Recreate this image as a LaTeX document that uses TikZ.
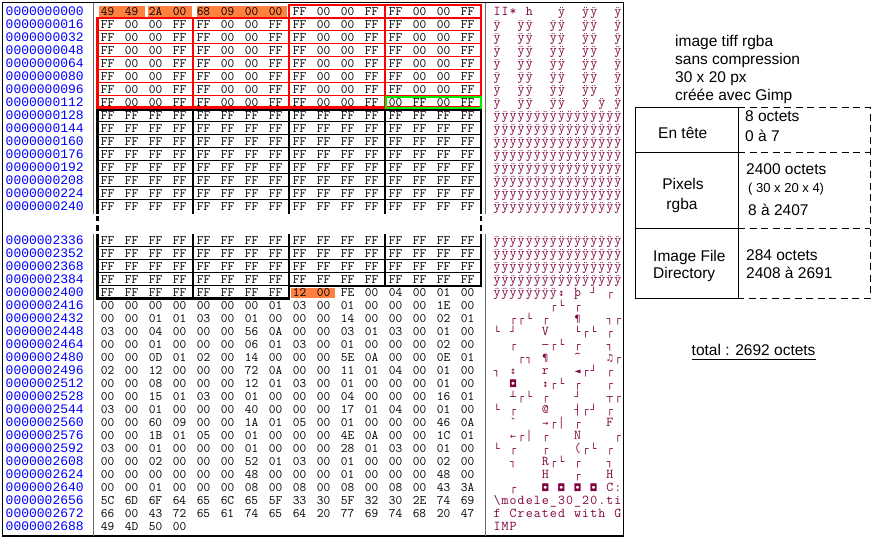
\documentclass[tikz,border=0pt]{standalone}
\usepackage{fontspec}
\setmainfont{Liberation Sans}
\newfontfamily\adrfont{Liberation Mono}
\newfontfamily\symf{DejaVu Sans Mono}

\definecolor{adrblue}{RGB}{0,0,255}
\definecolor{ascred}{RGB}{128,0,64}
\definecolor{hdrorange}{RGB}{255,128,64}
\definecolor{pixred}{RGB}{255,0,0}
\definecolor{pixgreen}{RGB}{0,235,0}
\definecolor{sepgray}{RGB}{110,110,110}

\newcommand\bxs[1]{{\symf\fontsize{10}{10}\selectfont #1}}
\newcommand\zzA{\bxs{┌}}
\newcommand\zzB{\bxs{┐}}
\newcommand\zzC{\bxs{└}}
\newcommand\zzD{\bxs{┘}}
\newcommand\zzE{\bxs{│}}
\newcommand\zzF{\bxs{─}}
\newcommand\zzG{\bxs{◘}}
\newcommand\zzH{\bxs{♫}}
\newcommand\zzI{\bxs{◄}}
\newcommand\zzJ{\bxs{↕}}
\newcommand\zzK{\bxs{¶}}
\newcommand\zzL{\bxs{┴}}
\newcommand\zzM{\bxs{┬}}
\newcommand\zzN{\bxs{┤}}
\newcommand\zzO{\bxs{→}}
\newcommand\zzP{\bxs{←}}

\def\pxrow{FF,00,00,FF,FF,00,00,FF,FF,00,00,FF,FF,00,00,FF}
\def\ffrow{FF,FF,FF,FF,FF,FF,FF,FF,FF,FF,FF,FF,FF,FF,FF,FF}
\def\pxasc{ÿ,{},{},ÿ,ÿ,{},{},ÿ,ÿ,{},{},ÿ,ÿ,{},{},ÿ}
\def\ffasc{ÿ,ÿ,ÿ,ÿ,ÿ,ÿ,ÿ,ÿ,ÿ,ÿ,ÿ,ÿ,ÿ,ÿ,ÿ,ÿ}

\newcommand\hexrow[3]{\foreach \b [count=\k from 0] in #3 {\node[hx] (h-#1-\k) at ({107.5+24*\k},{#2+4.6}) {\b};}}
\newcommand\ascrow[3]{\foreach \c [count=\k from 0] in #3 {\node[asc] (a-#1-\k) at ({497+8.06*\k},{#2+4.6}) {\c};}}

\tikzset{
  hx/.style={anchor=base, inner sep=0pt, font=\ttfamily\fontsize{13}{13}\selectfont},
  asc/.style={anchor=base, inner sep=0pt, text=ascred, font=\ttfamily\fontsize{13.5}{13.5}\selectfont},
  adr/.style={anchor=base west, inner sep=0pt, text=adrblue, font=\adrfont\fontsize{13}{13}\selectfont},
  lbl/.style={anchor=base west, inner sep=0pt, font=\fontsize{15.5}{15.5}\selectfont},
  thinred/.style={pixred, line width=1.2pt},
  thickred/.style={pixred, line width=2.6pt},
  thinblk/.style={black, line width=1.1pt},
  thickblk/.style={black, line width=2.6pt},
  sepline/.style={sepgray, line width=1.6pt},
  dashline/.style={black, line width=1pt, dash pattern=on 7pt off 4.5pt},
}

\begin{document}
\begin{tikzpicture}[x=1pt,y=-1pt]
\useasboundingbox (0,0) rectangle (875,539);
\fill[white] (0,0) rectangle (875,539);

% header highlights
\fill[hdrorange] (99,5.5) rectangle (144.5,16.5);
\fill[hdrorange] (148,5.5) rectangle (192,16.5);
\fill[hdrorange] (196.5,5.5) rectangle (287,16.5);
\fill[hdrorange] (290.5,287.5) rectangle (335,298);

% outer frame and separators
\draw[line width=1.2pt] (2.5,2.5) rectangle (623.5,536);
\draw[sepline] (93.5,2.5) -- (93.5,213.5) (93.5,233.5) -- (93.5,536);
\draw[sepline] (485.5,2.5) -- (485.5,213.5) (485.5,233.5) -- (485.5,536);

% red pixel cells
\foreach \yy in {30.5,43.5,56.5,69.5,82.5,95.5} {\draw[thinred] (97.5,\yy) -- (481,\yy);}
\draw[thinred] (289,18) -- (481,18);
\draw[thinred] (193,18) -- (193,107.5) (385,5) -- (385,107.5);
\draw[thickred] (289,5) -- (481,5) -- (481,107.5) -- (97.5,107.5) -- (97.5,18) -- (289,18) -- cycle;
\draw[thickred] (289,5) -- (289,107.5);
\draw[pixgreen, line width=2pt] (386,96.8) rectangle (480.5,107.6);

% black box upper
\foreach \m in {0,...,6} {\draw[thinblk] (97.5,{121.5+13*\m}) -- (481,{121.5+13*\m});}
\draw[thinblk] (193,110) -- (193,213.5) (289,110) -- (289,213.5) (385,110) -- (385,213.5);
\draw[thickblk] (97.5,213.5) -- (97.5,110) -- (481,110) -- (481,213.5);
% gap marks
\draw[thickblk] (97.5,216) -- (97.5,220.5) (97.5,225) -- (97.5,231);
\draw[thickblk] (481,216) -- (481,220.5) (481,225) -- (481,231);
% black box lower
\foreach \yy in {246.5,259.5,272.5} {\draw[thinblk] (97.5,\yy) -- (481,\yy);}
\draw[thinblk] (97.5,285.5) -- (289,285.5);
\draw[thinblk] (193,233.5) -- (193,298.5) (289,233.5) -- (289,286) (385,233.5) -- (385,286);
\draw[thickblk] (97.5,233.5) -- (97.5,298.5) -- (289,298.5) -- (289,286) -- (481,286) -- (481,233.5);

% addresses
\foreach \a [count=\i from 0] in {0000,0016,0032,0048,0064,0080,0096,0112,0128,0144,0160,0176,0192,0208,0224,0240}
  {\node[adr] (adu\i) at (5.5,{11+13*\i+4.6}) {000000\a};}
\foreach \a [count=\i from 0] in {2336,2352,2368,2384,2400,2416,2432,2448,2464,2480,2496,2512,2528,2544,2560,2576,2592,2608,2624,2640,2656,2672,2688}
  {\node[adr] (adl\i) at (5.5,{240+13*\i+4.6}) {000000\a};}

% hex bytes
\hexrow{u0}{11}{{49,49,2A,00,68,09,00,00,FF,00,00,FF,FF,00,00,FF}}
\foreach \i in {1,...,6} {\hexrow{u\i}{11+13*\i}{\pxrow}}
\hexrow{u7}{102}{{FF,00,00,FF,FF,00,00,FF,FF,00,00,FF,00,FF,00,FF}}
\foreach \i in {8,...,15} {\hexrow{u\i}{11+13*\i}{\ffrow}}
\foreach \j in {0,...,3} {\hexrow{l\j}{240+13*\j}{\ffrow}}
\hexrow{l4}{292}{{FF,FF,FF,FF,FF,FF,FF,FF,12,00,FE,00,04,00,01,00}}
\hexrow{l5}{305}{{00,00,00,00,00,00,00,01,03,00,01,00,00,00,1E,00}}
\hexrow{l6}{318}{{00,00,01,01,03,00,01,00,00,00,14,00,00,00,02,01}}
\hexrow{l7}{331}{{03,00,04,00,00,00,56,0A,00,00,03,01,03,00,01,00}}
\hexrow{l8}{344}{{00,00,01,00,00,00,06,01,03,00,01,00,00,00,02,00}}
\hexrow{l9}{357}{{00,00,0D,01,02,00,14,00,00,00,5E,0A,00,00,0E,01}}
\hexrow{l10}{370}{{02,00,12,00,00,00,72,0A,00,00,11,01,04,00,01,00}}
\hexrow{l11}{383}{{00,00,08,00,00,00,12,01,03,00,01,00,00,00,01,00}}
\hexrow{l12}{396}{{00,00,15,01,03,00,01,00,00,00,04,00,00,00,16,01}}
\hexrow{l13}{409}{{03,00,01,00,00,00,40,00,00,00,17,01,04,00,01,00}}
\hexrow{l14}{422}{{00,00,60,09,00,00,1A,01,05,00,01,00,00,00,46,0A}}
\hexrow{l15}{435}{{00,00,1B,01,05,00,01,00,00,00,4E,0A,00,00,1C,01}}
\hexrow{l16}{448}{{03,00,01,00,00,00,01,00,00,00,28,01,03,00,01,00}}
\hexrow{l17}{461}{{00,00,02,00,00,00,52,01,03,00,01,00,00,00,02,00}}
\hexrow{l18}{474}{{00,00,00,00,00,00,48,00,00,00,01,00,00,00,48,00}}
\hexrow{l19}{487}{{00,00,01,00,00,00,08,00,08,00,08,00,08,00,43,3A}}
\hexrow{l20}{500}{{5C,6D,6F,64,65,6C,65,5F,33,30,5F,32,30,2E,74,69}}
\hexrow{l21}{513}{{66,00,43,72,65,61,74,65,64,20,77,69,74,68,20,47}}
\hexrow{l22}{526}{{49,4D,50,00}}

% ascii column
\ascrow{u0}{11}{{I,I,*,{},h,{},{},{},ÿ,{},{},ÿ,ÿ,{},{},ÿ}}
\foreach \i in {1,...,6} {\ascrow{u\i}{11+13*\i}{\pxasc}}
\ascrow{u7}{102}{{ÿ,{},{},ÿ,ÿ,{},{},ÿ,ÿ,{},{},ÿ,{},ÿ,{},ÿ}}
\foreach \i in {8,...,15} {\ascrow{u\i}{11+13*\i}{\ffasc}}
\foreach \j in {0,...,3} {\ascrow{l\j}{240+13*\j}{\ffasc}}
\ascrow{l4}{292}{{ÿ,ÿ,ÿ,ÿ,ÿ,ÿ,ÿ,ÿ,\zzJ,{},þ,{},\zzD,{},\zzA,{}}}
\ascrow{l5}{305}{{{},{},{},{},{},{},{},\zzA,\zzC,{},\zzA,{},{},{},{},{}}}
\ascrow{l6}{318}{{{},{},\zzA,\zzA,\zzC,{},\zzA,{},{},{},\zzK,{},{},{},\zzB,\zzA}}
\ascrow{l7}{331}{{\zzC,{},\zzD,{},{},{},V,{},{},{},\zzC,\zzA,\zzC,{},\zzA,{}}}
\ascrow{l8}{344}{{{},{},\zzA,{},{},{},\zzF,\zzA,\zzC,{},\zzA,{},{},{},\zzB,{}}}
\ascrow{l9}{357}{{{},{},{},\zzA,\zzB,{},\zzK,{},{},{},\textasciicircum,{},{},{},\zzH,\zzA}}
\ascrow{l10}{370}{{\zzB,{},\zzJ,{},{},{},r,{},{},{},\zzI,\zzA,\zzD,{},\zzA,{}}}
\ascrow{l11}{383}{{{},{},\zzG,{},{},{},\zzJ,\zzA,\zzC,{},\zzA,{},{},{},\zzA,{}}}
\ascrow{l12}{396}{{{},{},\zzL,\zzA,\zzC,{},\zzA,{},{},{},\zzD,{},{},{},\zzM,\zzA}}
\ascrow{l13}{409}{{\zzC,{},\zzA,{},{},{},{@},{},{},{},\zzN,\zzA,\zzD,{},\zzA,{}}}
\ascrow{l14}{422}{{{},{},{`},{},{},{},\zzO,\zzA,\zzE,{},\zzA,{},{},{},F,{}}}
\ascrow{l15}{435}{{{},{},\zzP,\zzA,\zzE,{},\zzA,{},{},{},N,{},{},{},{},\zzA}}
\ascrow{l16}{448}{{\zzC,{},\zzA,{},{},{},\zzA,{},{},{},{(},\zzA,\zzC,{},\zzA,{}}}
\ascrow{l17}{461}{{{},{},\zzB,{},{},{},R,\zzA,\zzC,{},\zzA,{},{},{},\zzB,{}}}
\ascrow{l18}{474}{{{},{},{},{},{},{},H,{},{},{},\zzA,{},{},{},H,{}}}
\ascrow{l19}{487}{{{},{},\zzA,{},{},{},\zzG,{},\zzG,{},\zzG,{},\zzG,{},C,{:}}}
\ascrow{l20}{500}{{\textbackslash,m,o,d,e,l,e,\_,3,0,\_,2,0,{.},t,i}}
\ascrow{l21}{513}{{f,{},C,r,e,a,t,e,d,{},w,i,t,h,{},G}}
\ascrow{l22}{526}{{I,M,P}}

% right panel description
\node[lbl] (d1) at (675,46) {image tiff rgba};
\node[lbl] (d2) at (675,64) {sans compression};
\node[lbl] (d3) at (675,82) {30 x 20 px};
\node[lbl] (d4) at (675,100) {créée avec Gimp};

% table
\draw[line width=1pt] (635,107.5) rectangle (738,298);
\draw[line width=1pt] (635,152) -- (738,152) (635,228) -- (738,228);
\draw[dashline] (738,107.5) -- (870,107.5) -- (870,298) -- (738,298);
\draw[dashline] (738,152) -- (870,152) (738,228) -- (870,228);

\node[lbl] (en) at (658,138.5) {En tête};
\node[lbl] (o8) at (745,121.5) {8 octets};
\node[lbl] (o07) at (745,141.5) {0 à 7};
\node[lbl, anchor=base] (pxl) at (683,189) {Pixels};
\node[lbl, anchor=base] (rgb) at (682,209) {rgba};
\node[lbl] (o2400) at (746,174) {2400 octets};
\node[lbl, font=\fontsize{13}{13}\selectfont] (dims) at (748,192.5) {( 30 x 20 x 4)};
\node[lbl] (r8) at (748,215) {8 à 2407};
\node[lbl] (ifd1) at (653,261) {Image File};
\node[lbl] (ifd2) at (653,278) {Directory};
\node[lbl] (o284) at (746,260) {284 octets};
\node[lbl] (r2408) at (746,278) {2408 à 2691};

\node[lbl] (tot) at (691.5,355) {total : 2692 octets};
\draw[line width=1pt] ([yshift=-4.5pt]tot.base west) -- ([yshift=-4.5pt]tot.base east);
\end{tikzpicture}
\end{document}
